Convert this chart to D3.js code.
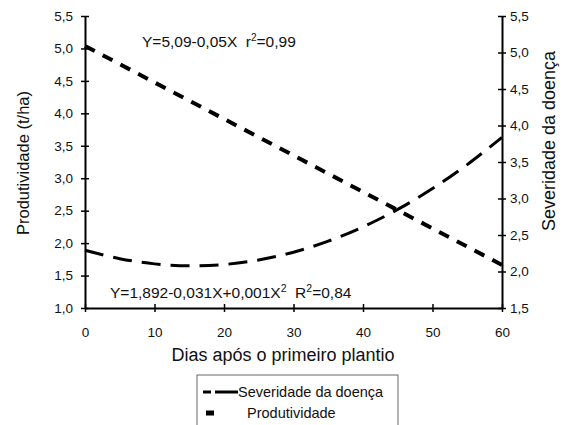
<!DOCTYPE html>
<html><head><meta charset="utf-8">
<script src="https://cdn.jsdelivr.net/npm/d3@7"></script>
<style>
body{margin:0;background:#fff;}
text{font-family:"Liberation Sans",Arial,sans-serif;fill:#111;}
</style></head>
<body><svg id="c" width="568" height="425"></svg>
<script>
const days = [0,5,10,15,20,25,30,35,40,45,50,55,60];
const severidade = [1.89,1.76,1.68,1.65,1.67,1.74,1.86,2.03,2.25,2.52,2.84,3.21,3.63];
const produtividade = [5.09,4.84,4.59,4.34,4.09,3.84,3.59,3.34,3.09,2.84,2.59,2.34,2.09];
const xTicks = [0,10,20,30,40,50,60];
const leftTicks = [1,1.5,2,2.5,3,3.5,4,4.5,5,5.5];
const rightTicks = [1.5,2,2.5,3,3.5,4,4.5,5,5.5];
const eqProd = "Y=5,09-0,05X\u00A0\u00A0r";
const eqSev = "Y=1,892-0,031X+0,001X";

const svg = d3.select("#c");
const x = d3.scaleLinear().domain([0,60]).range([85,502]);
const yL = d3.scaleLinear().domain([1,5.5]).range([308,16]);
const yR = d3.scaleLinear().domain([1.5,5.5]).range([308,16]);
const fmt = d => d3.format(".1f")(d).replace(".", ",");

function styleAxis(g){
  g.select(".domain").attr("stroke","#000").attr("stroke-width",2);
  g.selectAll(".tick line").attr("stroke","#000").attr("stroke-width",1.5);
  g.selectAll(".tick text").style("font-size","13.5px").attr("fill","#111");
}
const gx = svg.append("g").attr("transform","translate(0,308)")
  .call(d3.axisBottom(x).tickValues(xTicks).tickSizeInner(4).tickSizeOuter(0).tickPadding(15));
gx.selectAll(".tick line").attr("y1",-4);
styleAxis(gx);
const gl = svg.append("g").attr("transform","translate(85,0)")
  .call(d3.axisLeft(yL).tickValues(leftTicks).tickFormat(fmt).tickSizeInner(4).tickSizeOuter(0).tickPadding(8));
gl.selectAll(".tick line").attr("x1",4);
styleAxis(gl);
const gr = svg.append("g").attr("transform","translate(502,0)")
  .call(d3.axisRight(yR).tickValues(rightTicks).tickFormat(fmt).tickSizeInner(4).tickSizeOuter(0).tickPadding(4));
gr.selectAll(".tick line").attr("x1",-4);
styleAxis(gr);

const lineSev = d3.line().x((d,i)=>x(days[i])).y(d=>yL(d)).curve(d3.curveCatmullRom);
const lineProd = d3.line().x((d,i)=>x(days[i])).y(d=>yR(d));
svg.append("path").attr("d",lineSev(severidade)).attr("fill","none")
  .attr("stroke","#000").attr("stroke-width",3).attr("stroke-dasharray","19,10");
svg.append("path").attr("d",lineProd(produtividade)).attr("fill","none")
  .attr("stroke","#000").attr("stroke-width",4).attr("stroke-dasharray","11,9");

const t1 = svg.append("text").attr("x",142).attr("y",47).style("font-size","15.5px");
t1.append("tspan").text(eqProd);
t1.append("tspan").attr("dy",-6).style("font-size","10px").text("2");
t1.append("tspan").attr("dy",6).text("=0,99");
const t2 = svg.append("text").attr("x",110).attr("y",298).style("font-size","15.5px");
t2.append("tspan").text(eqSev);
t2.append("tspan").attr("dy",-6).style("font-size","10.5px").text("2");
t2.append("tspan").attr("dy",6).text("\u00A0\u00A0R");
t2.append("tspan").attr("dy",-6).style("font-size","10.5px").text("2");
t2.append("tspan").attr("dy",6).text("=0,84");

svg.append("text").attr("transform","translate(29,163) rotate(-90)").attr("text-anchor","middle")
  .style("font-size","16.5px").attr("fill","#333").text("Produtividade (t/ha)");
svg.append("text").attr("transform","translate(555,141) rotate(-90)").attr("text-anchor","middle")
  .style("font-size","18px").attr("fill","#333").text("Severidade da doença");
svg.append("text").attr("x",283).attr("y",361).attr("text-anchor","middle")
  .style("font-size","18px").attr("fill","#333").text("Dias após o primeiro plantio");

svg.append("rect").attr("x",197).attr("y",375).attr("width",201).attr("height",60)
  .attr("fill","#fff").attr("stroke","#666").attr("stroke-width",1);
svg.append("line").attr("x1",203).attr("x2",238).attr("y1",392).attr("y2",392)
  .attr("stroke","#000").attr("stroke-width",3).attr("stroke-dasharray","8,4,23");
svg.append("text").attr("x",238).attr("y",397).style("font-size","14.5px").text("Severidade da doença");
svg.append("line").attr("x1",206).attr("x2",214).attr("y1",413).attr("y2",413)
  .attr("stroke","#000").attr("stroke-width",5);
svg.append("text").attr("x",247).attr("y",418).style("font-size","14.5px").text("Produtividade");
</script></body></html>
